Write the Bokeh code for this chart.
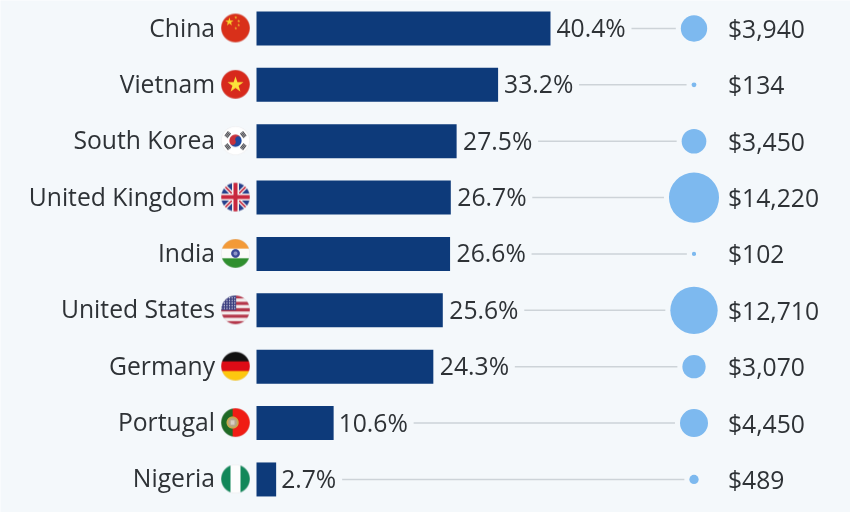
import numpy as np
from bokeh.embed import file_html
from bokeh.models import Range1d
from bokeh.plotting import figure
from bokeh.resources import INLINE
from bokeh.core.properties import value

countries = ["China", "Vietnam", "South Korea", "United Kingdom", "India",
             "United States", "Germany", "Portugal", "Nigeria"]
shares = [40.4, 33.2, 27.5, 26.7, 26.6, 25.6, 24.3, 10.6, 2.7]
spend = [3940, 134, 3450, 14220, 102, 12710, 3070, 4450, 489]
share_labels = [f"{s:.1f}%" for s in shares]
spend_labels = [f"${v:,}" for v in spend]

W, H = 850, 512
BG = "#f4f8fb"; BAR = "#0d3a7a"; BUB = "#7db9ef"; LINE = "#cdd3d8"; TXT = "#2e3236"
FONT = "Open Sans"; FS = "24.7px"
X0, PX_PER = 256.0, 7.277
Y0, STEP = 28.0, 56.37

def xd(px):
    return (px - X0) / PX_PER

FLAG_PX = 29
SS = 6
N = FLAG_PX * SS
g = (np.arange(N) + 0.5) / N * 2 - 1
X, Y = np.meshgrid(g, g)

def col(h):
    h = h.lstrip("#")
    return np.array([int(h[i:i + 2], 16) for i in (0, 2, 4)], dtype=float)

def canvas(h):
    return np.ones((N, N, 3)) * col(h)

def star(cx, cy, R, rot=0.0):
    dx, dy = X - cx, Y - cy
    rho = np.hypot(dx, dy)
    t = (np.arctan2(dx, dy) - rot) % np.radians(72)
    t = np.minimum(t, np.radians(72) - t)
    px, py = rho * np.cos(t), rho * np.sin(t)
    r = 0.382 * R
    ax, ay = r * np.cos(np.radians(36)) - R, r * np.sin(np.radians(36))
    return ax * py - ay * (px - R) >= 0

def china():
    a = canvas("#d9301a")
    a[star(-0.42, 0.42, 0.3)] = col("#f6d62c")
    for cx, cy in [(0.02, 0.72), (0.22, 0.48), (0.22, 0.2), (0.02, -0.02)]:
        a[star(cx, cy, 0.11)] = col("#f0c22c")
    return a

def vietnam():
    a = canvas("#d7291c")
    a[star(0, -0.03, 0.58)] = col("#fbe33a")
    return a

def korea():
    a = canvas("#ffffff")
    disc = np.hypot(X, Y) < 0.42
    s = np.radians(25)
    u = X * np.cos(s) + Y * np.sin(s)
    v = -X * np.sin(s) + Y * np.cos(s)
    upper = (v > 0)
    upper = np.where(np.hypot(u - 0.21, v) < 0.21, False, upper)
    upper = np.where(np.hypot(u + 0.21, v) < 0.21, True, upper)
    a[disc & upper] = col("#c8323c")
    a[disc & ~upper] = col("#1f4aa0")
    for ang in (38, 142, 218, 322):
        th = np.radians(ang)
        p = X * np.cos(th) + Y * np.sin(th)
        q = -X * np.sin(th) + Y * np.cos(th)
        for d in (0.58, 0.68, 0.78):
            a[(np.abs(p - d) < 0.035) & (np.abs(q) < 0.2)] = col("#3a3a40")
    return a

def uk():
    a = canvas("#26408c")
    a[(np.abs(X - Y) < 0.2) | (np.abs(X + Y) < 0.2)] = col("#f4f0f0")
    a[(np.abs(X - Y) < 0.08) | (np.abs(X + Y) < 0.08)] = col("#c9283e")
    a[(np.abs(X) < 0.24) | (np.abs(Y) < 0.24)] = col("#f4f0f0")
    a[(np.abs(X) < 0.14) | (np.abs(Y) < 0.14)] = col("#c9283e")
    return a

def india():
    a = canvas("#fbfbf8")
    a[Y > 0.33] = col("#f39a37")
    a[Y < -0.33] = col("#2f8f2f")
    r = np.hypot(X, Y)
    a[r < 0.3] = col("#3a4896")
    a[r < 0.14] = col("#8f96c8")
    return a

def usa():
    a = canvas("#f4eeee")
    band = np.floor((1 - Y) / 2 * 9).astype(int)
    a[band % 2 == 0] = col("#b5364a")
    cant = (X < 0.05) & (Y > -0.02)
    a[cant] = col("#3b3f80")
    for cy in np.arange(0.1, 1.0, 0.18):
        for cx in np.arange(-0.95, 0.05, 0.18):
            a[cant & (np.hypot(X - cx, Y - cy) < 0.045)] = col("#e8e8f0")
    return a

def germany():
    a = canvas("#dd0b16")
    a[Y > 0.33] = col("#111111")
    a[Y < -0.33] = col("#fdc70f")
    return a

def portugal():
    a = canvas("#f01c14")
    a[X < -0.2] = col("#1f6a25")
    r = np.hypot(X + 0.2, Y)
    a[r < 0.42] = col("#c9a94e")
    a[r < 0.3] = col("#b7a58c")
    a[(np.abs(X + 0.2) < 0.13) & (np.abs(Y) < 0.15)] = col("#d9cfc2")
    return a

def nigeria():
    a = canvas("#12875a")
    a[np.abs(X) < 0.34] = col("#fdfdfd")
    return a

def flag(fn):
    a = fn()
    r = np.hypot(X, Y)
    ring = (r > 0.95)
    a[ring] = a[ring] * 0.6 + np.array([215.0, 215.0, 220.0]) * 0.4
    alpha = np.clip((1 - r) * N / 2 + 0.5, 0, 1)
    rgba_p = np.dstack([a * alpha[..., None], alpha])
    small = rgba_p.reshape(FLAG_PX, SS, FLAG_PX, SS, 4).mean(axis=(1, 3))
    al = np.maximum(small[..., 3:], 1e-6)
    rgb = np.clip(small[..., :3] / al, 0, 255)
    img = np.zeros((FLAG_PX, FLAG_PX), dtype=np.uint32)
    view = img.view(dtype=np.uint8).reshape((FLAG_PX, FLAG_PX, 4))
    view[:, :, :3] = rgb.astype(np.uint8)
    view[:, :, 3] = (small[..., 3] * 255).astype(np.uint8)
    return img

flag_fns = [china, vietnam, korea, uk, india, usa, germany, portugal, nigeria]

p = figure(width=W, height=H, output_backend="svg", toolbar_location=None,
           x_range=Range1d(xd(0), xd(W)),
           y_range=Range1d(-(H - Y0) / STEP, Y0 / STEP),
           min_border=0, background_fill_color=BG, border_fill_color=BG,
           outline_line_color=None)
p.xaxis.visible = False
p.yaxis.visible = False
p.grid.visible = False
p.styles = {"position": "fixed", "left": "0px", "top": "0px"}

ys = [-i for i in range(len(countries))]
BUB_X = xd(693.5)
R_K = 0.21
radii = [R_K * np.sqrt(v) for v in spend]

gaps = [6 if s >= 30 else (6.5 if s >= 11 else 5) for s in shares]
lab_w = [69 if s >= 10 else 55 for s in shares]
line_start = [s + (g_ + w + 6) / PX_PER for s, g_, w in zip(shares, gaps, lab_w)]
line_end = [BUB_X - (r + 5) / PX_PER for r in radii]
p.segment(line_start, ys, line_end, ys, line_color=LINE, line_width=1.5)

p.hbar(y=ys, left=0, right=shares, height=34 / STEP, fill_color=BAR, line_color=None)

p.scatter([BUB_X] * len(ys), ys, size=[2 * r for r in radii], marker="circle",
          fill_color=BUB, line_color=None)

for i, fn in enumerate(flag_fns):
    p.image_rgba(image=[flag(fn)], x=xd(235), y=ys[i] + 0.5 / STEP, dw=FLAG_PX, dh=FLAG_PX,
                 dw_units="screen", dh_units="screen", anchor="center")

common = dict(text_font=value(FONT), text_font_size=value(FS), text_color=TXT,
              text_baseline="middle")
p.text([xd(214.5)] * len(ys), ys, text=countries, text_align="right", y_offset=-1.5, **common)
p.text([s + g_ / PX_PER for s, g_ in zip(shares, gaps)], ys, text=share_labels,
       text_align="left", y_offset=-1, **common)
p.text([xd(727.5)] * len(ys), ys, text=spend_labels, text_align="left", y_offset=0, **common)

open("out.html", "w").write(file_html(p, INLINE))
